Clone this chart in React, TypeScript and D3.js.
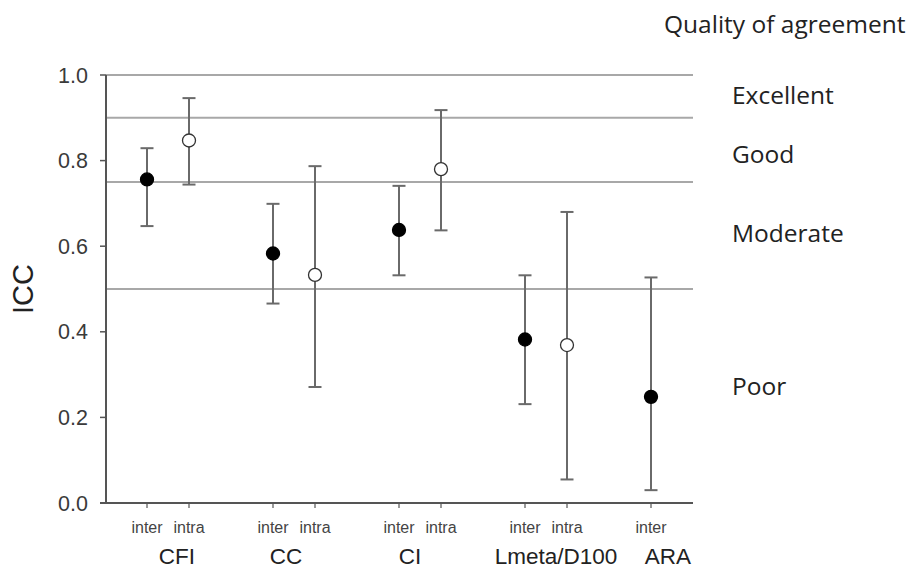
import React from "react";
import * as d3 from "d3";

// ICC estimates with 95% CI, one entry per rater comparison
const pointGroup = ["CFI", "CFI", "CC", "CC", "CI", "CI", "Lmeta/D100", "Lmeta/D100", "ARA"];
const pointRater = ["inter", "intra", "inter", "intra", "inter", "intra", "inter", "intra", "inter"];
const pointPos = [1, 2, 4, 5, 7, 8, 10, 11, 13];
const icc = [0.756, 0.847, 0.583, 0.533, 0.638, 0.78, 0.382, 0.369, 0.248];
const lower = [0.647, 0.744, 0.466, 0.271, 0.532, 0.637, 0.231, 0.055, 0.03];
const upper = [0.829, 0.946, 0.699, 0.787, 0.741, 0.918, 0.532, 0.68, 0.527];

const groups = ["CFI", "CC", "CI", "Lmeta/D100", "ARA"];
const groupLabelPos = [1.71, 4.31, 7.26, 10.74, 13.4];

const yTicks = [0, 0.2, 0.4, 0.6, 0.8, 1.0];
const thresholds = [1.0, 0.9, 0.75, 0.5];
const qualityLabels = ["Excellent", "Good", "Moderate", "Poor"];
const qualityAt = [0.932, 0.794, 0.61, 0.252];

const W = 921;
const H = 569;

export default function App() {
  const x = d3.scaleLinear().domain([0, 14]).range([105, 693]);
  const y = d3.scaleLinear().domain([0, 1]).range([503, 75]);
  const fmt = d3.format(".1f");

  const axisColor = "#555";
  const gridColor = "#a8a8a8";
  const barColor = "#6a6a6a";
  const capHalf = 6.5;

  return (
    <svg
      width={W}
      height={H}
      style={{ position: "absolute", left: 0, top: 0, background: "#fff" }}
      fontFamily="'Liberation Sans', Arial, sans-serif"
    >
      {/* quality thresholds */}
      {thresholds.map((t) => (
        <line key={t} x1={x(0) + 1} x2={x(14)} y1={y(t)} y2={y(t)} stroke={gridColor} strokeWidth={2} />
      ))}

      {/* y axis */}
      <line x1={x(0) + 1} x2={x(0) + 1} y1={y(1)} y2={y(0)} stroke={axisColor} strokeWidth={2} />
      {yTicks.map((t) => (
        <g key={t}>
          <line x1={x(0) - 5} x2={x(0) + 1} y1={y(t)} y2={y(t)} stroke={axisColor} strokeWidth={1.5} />
          <text x={88} y={y(t) + 7.5} textAnchor="end" fontSize={21.5} fill="#3a3a3a">
            {fmt(t)}
          </text>
        </g>
      ))}
      <text
        transform={`translate(33, ${y(0.5)}) rotate(-90)`}
        textAnchor="middle"
        fontSize={29}
        fill="#222"
      >
        ICC
      </text>

      {/* x axis */}
      <line x1={x(0) - 5} x2={x(14)} y1={y(0)} y2={y(0)} stroke={axisColor} strokeWidth={2} />
      {pointPos.map((p, i) => (
        <g key={i}>
          <line x1={x(p)} x2={x(p)} y1={y(0)} y2={y(0) + 5} stroke={axisColor} strokeWidth={1.2} />
          <text x={x(p)} y={533} textAnchor="middle" fontSize={16} fill="#444">
            {pointRater[i]}
          </text>
        </g>
      ))}
      {groups.map((g, i) => (
        <text key={g} x={x(groupLabelPos[i])} y={564} textAnchor="middle" fontSize={22.5} fill="#222">
          {g}
        </text>
      ))}

      {/* error bars and points */}
      {pointPos.map((p, i) => (
        <g key={pointGroup[i] + pointRater[i]}>
          <line x1={x(p)} x2={x(p)} y1={y(lower[i])} y2={y(upper[i])} stroke={barColor} strokeWidth={2} />
          <line x1={x(p) - capHalf} x2={x(p) + capHalf} y1={y(upper[i])} y2={y(upper[i])} stroke={barColor} strokeWidth={2} />
          <line x1={x(p) - capHalf} x2={x(p) + capHalf} y1={y(lower[i])} y2={y(lower[i])} stroke={barColor} strokeWidth={2} />
          <circle
            cx={x(p)}
            cy={y(icc[i])}
            r={6.5}
            fill={pointRater[i] === "inter" ? "#000" : "#fff"}
            stroke={pointRater[i] === "inter" ? "#000" : "#333"}
            strokeWidth={1.3}
          />
        </g>
      ))}

      {/* quality of agreement labels */}
      <g fontFamily="'Open Sans', Lato, sans-serif" fill="#222">
        <text x={664} y={33} fontSize={24.5}>
          Quality of agreement
        </text>
        {qualityLabels.map((q, i) => (
          <text key={q} x={732} y={y(qualityAt[i])} fontSize={24.5}>
            {q}
          </text>
        ))}
      </g>
    </svg>
  );
}
